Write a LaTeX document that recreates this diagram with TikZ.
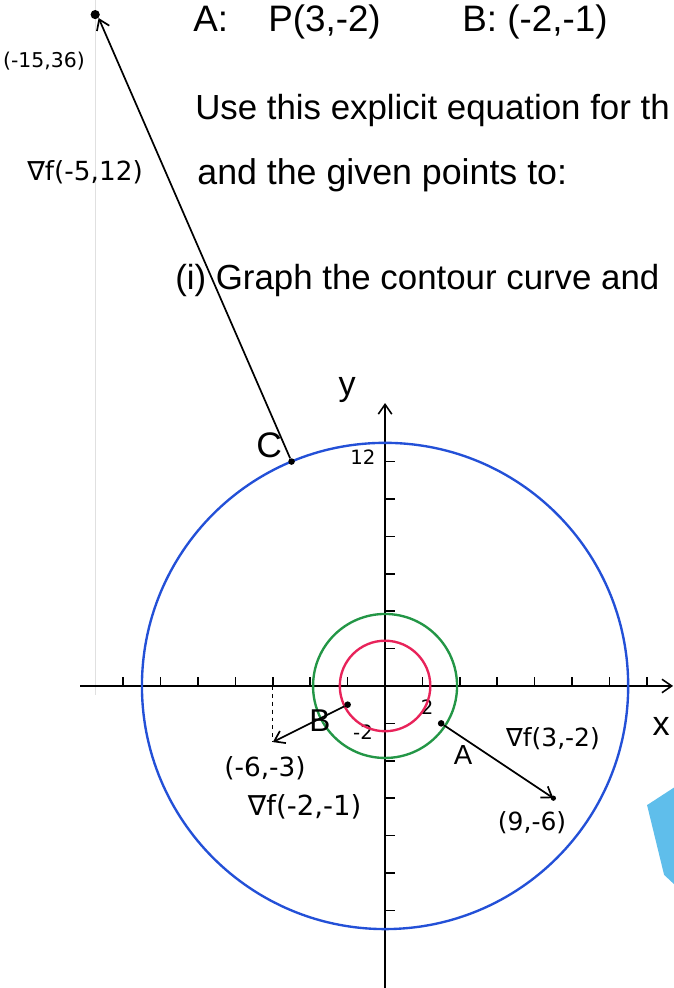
\documentclass[tikz,border=0pt]{standalone}
\usepackage{amsmath,amssymb}
\usepackage{fontspec}
\setmainfont{Liberation Sans}
\newfontfamily\lblfont{DejaVu Sans}
\usepackage{xcolor}
\usetikzlibrary{arrows.meta,positioning}
\definecolor{lvlblue}{RGB}{35,80,215}
\definecolor{lvlgreen}{RGB}{35,150,70}
\definecolor{lvlred}{RGB}{232,35,90}
\definecolor{hilite}{RGB}{95,190,235}

\begin{document}
\begin{tikzpicture}[x=0.5cm,y=0.5cm,>={Straight Barb[length=2.6mm,width=3.6mm]},
  ax/.style={line width=1.2pt},
  lvl/.style={line width=1.8pt},
  grad/.style={->,line width=1.3pt},
  pt/.style={circle,fill=black,inner sep=0pt,minimum size=5pt},
  hw/.style={font=\fontsize{26.5}{30}\selectfont,anchor=base west,inner sep=0pt},
  lbl/.style={font=\lblfont\fontsize{19}{22}\selectfont,inner sep=1pt},
  big/.style={font=\fontsize{24}{28}\selectfont,inner sep=1pt}]

  \useasboundingbox (-20.59,-16.15) rectangle (15.45,36.68);
  \clip (-20.59,-16.15) rectangle (15.45,36.68);

  % ---------- paper ----------
  \draw[black!12,line width=0.6pt] (-15.5,36.68) -- (-15.5,-0.5);
  \fill[hilite] (14.01,-6.37) -- (15.5,-5.4) -- (15.5,-10.64) -- (14.92,-10.1) -- cycle;

  % ---------- question text ----------
  \node[hw,font=\fontsize{28}{32}\selectfont] (tA) at (-10.27,34.97) {A:};
  \node[hw,font=\fontsize{28}{32}\selectfont] (tP) at (-6.26,34.97) {P(3,-2)};
  \node[hw,font=\fontsize{28}{32}\selectfont] (tB) at (4.12,34.97) {B: (-2,-1)};
  \node[hw] (l1) at (-10.16,30.27) {Use this explicit equation for th};
  \node[hw,font=\fontsize{27.2}{30}\selectfont] (l2) at (-10.05,26.79) {and the given points to:};
  \node[hw] (l3) at (-11.23,21.18) {(i) Graph the contour curve and};

  % ---------- axes ----------
  \coordinate (O) at (0,0);
  \coordinate (xl) at (-16.3,0);
  \coordinate (xr) at (15.4,0);
  \coordinate (yb) at (0,-16.2);
  \coordinate (yt) at (0,15.13);
  \draw[ax,->] (xl) -- (xr);
  \draw[ax,->] (yb) -- (yt);
  \foreach \t in {-14,-12,...,14} {\ifnum\t=0\else \draw[ax] (\t,0) -- (\t,0.5);\fi}
  \foreach \t in {-12,-10,...,12} {\ifnum\t=0\else \draw[ax] (0,\t) -- (0.55,\t);\fi}
  \node[big,font=\fontsize{26}{30}\selectfont] (xlab) at (14.76,-2.14) {x};
  \node[big,font=\fontsize{26}{30}\selectfont] (ylab) at (-2.03,15.83) {y};
  \node[lbl,font=\lblfont\fontsize{15}{18}\selectfont] (t12) at (-1.18,12.25) {12};
  \node[lbl,font=\lblfont\fontsize{15}{18}\selectfont] (t2) at (2.25,-1.12) {2};
  \node[lbl,font=\lblfont\fontsize{15}{18}\selectfont] (tm2) at (-1.18,-2.46) {-2};

  % ---------- level curves ----------
  \draw[lvl,lvlblue] (O) circle (13);
  \draw[lvl,lvlgreen] (O) circle (3.85);
  \draw[lvl,lvlred] (O) circle (2.42);

  % ---------- points and gradients ----------
  \node[pt] (ptA) at (3,-2) {};
  \node[pt] (ptB) at (-2,-1) {};
  \node[pt] (ptC) at (-5,12) {};
  \coordinate (gA) at (9,-6);
  \coordinate (gB) at (-6,-3);
  \node[pt,minimum size=7pt] (gC) at (-15.5,35.9) {};
  \fill (gA) circle (2pt);
  \draw[grad] (ptA) -- (gA);
  \draw[grad] (ptB) -- (gB);
  \draw[grad] (ptC) -- (gC.south east);
  \draw[dashed,line width=0.8pt] (-6,0) -- (gB);

  \node[big,font=\fontsize{21}{24}\selectfont] (lA) at (4.17,-3.69) {A};
  \node[big] (lB) at (-3.48,-1.85) {B};
  \node[big,font=\fontsize{27}{30}\selectfont] (lC) at (-6.2,12.89) {C};
  \node[lbl] (nA) at (8.98,-2.83) {∇f(3,-2)};
  \node[lbl] (vA) at (7.86,-7.33) {(9,-6)};
  \node[lbl,font=\lblfont\fontsize{20}{24}\selectfont] (vB) at (-6.42,-4.38) {(-6,-3)};
  \node[lbl,font=\lblfont\fontsize{21}{24}\selectfont] (nB) at (-4.3,-6.47) {∇f(-2,-1)};
  \node[lbl,font=\lblfont\fontsize{15.5}{18}\selectfont] (vC) at (-18.24,33.42) {(-15,36)};
  \node[lbl,font=\lblfont\fontsize{20}{24}\selectfont] (nC) at (-16.04,27.49) {∇f(-5,12)};
\end{tikzpicture}
\end{document}
